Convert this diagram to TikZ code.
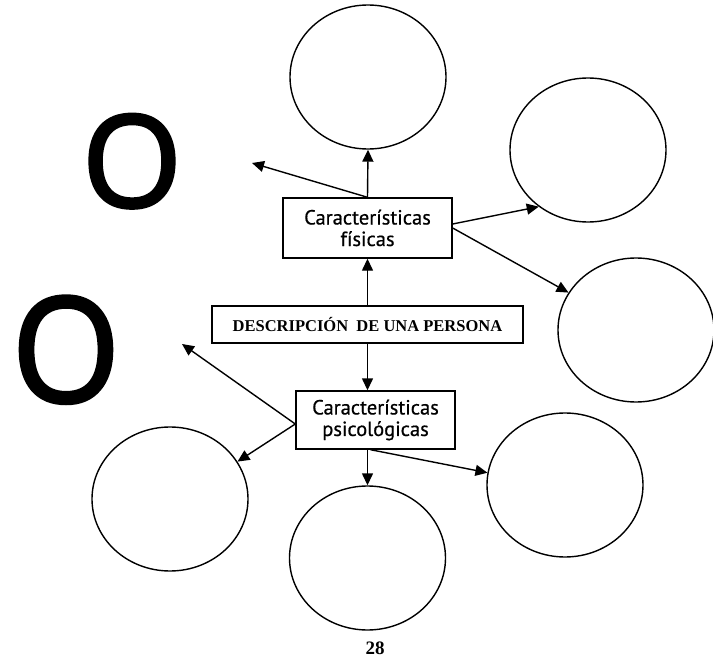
\documentclass[tikz,border=0pt]{standalone}
\usepackage{fontspec}
\setmainfont{Liberation Serif}
\newfontfamily\cajafont[FakeBold=0.6]{PT Sans}
\newfontfamily\letrafont[FakeBold=2.5]{Open Sans}
\usetikzlibrary{shapes.geometric,arrows.meta}

\begin{document}
\begin{tikzpicture}[x=1pt, y=-1pt, line width=1.4pt,
    caja/.style={draw, rectangle, align=center, inner sep=0pt, font=\cajafont\fontsize{20.5}{21.5}\selectfont},
    globo/.style={draw, ellipse, minimum width=156pt, minimum height=144pt, inner sep=0pt},
    flecha/.style={-{Triangle[length=12pt,width=11pt]}},
    letra/.style={anchor=base, inner sep=0pt}]
    \useasboundingbox (0,0) rectangle (713,658);

    % cajas centrales
    \node[caja, minimum width=169pt, minimum height=60pt] (fis) at (367.5,228) {Características\\físicas};
    \node[draw, minimum width=311pt, minimum height=37pt, inner sep=0pt, font=\bfseries\fontsize{16.5}{18}\selectfont] (desc) at (367.5,324.5) {DESCRIPCIÓN\ \ DE UNA PERSONA};
    \node[caja, minimum width=159pt, minimum height=58pt] (psi) at (375.5,420) {Características\\psicológicas};

    % globos vacios
    \node[globo] (arr) at (368,77) {};
    \node[globo] (sup) at (588,150) {};
    \node[globo] (der) at (636,330) {};
    \node[globo] (infd) at (565,485) {};
    \node[globo] (inf) at (367.5,558) {};
    \node[globo] (infi) at (170,499) {};

    \coordinate (pl1) at (252,163);
    \coordinate (pl2) at (182,344);

    % letras sueltas
    \node[letra, font=\letrafont\fontsize{128}{128}\selectfont] (o1) at (132,207) {O};
    \node[letra, xscale=0.95, font=\letrafont\fontsize{146}{146}\selectfont] (o2) at (66,402) {O};
    \node[letra, font=\bfseries\fontsize{19}{19}\selectfont] (pag) at (375,654) {28};

    \draw[flecha] (desc) -- (fis);
    \draw[flecha] (desc.south) -- (desc.south |- psi.north);
    \draw[flecha] (fis.north) -- (arr.south);
    \draw[flecha] (fis.north) -- (pl1);
    \draw[flecha] ([yshift=4pt]fis.east) -- (sup.229);
    \draw[flecha] (fis.east) -- (der.151);
    \draw[flecha] (desc.south |- psi.south) -- (inf.north);
    \draw[flecha] ([xshift=-5pt]psi.south) -- (infd.171);
    \draw[flecha] ([yshift=-4pt]psi.west) -- (pl2);
    \draw[flecha] ([yshift=-4pt]psi.west) -- (infi.29);
\end{tikzpicture}
\end{document}
